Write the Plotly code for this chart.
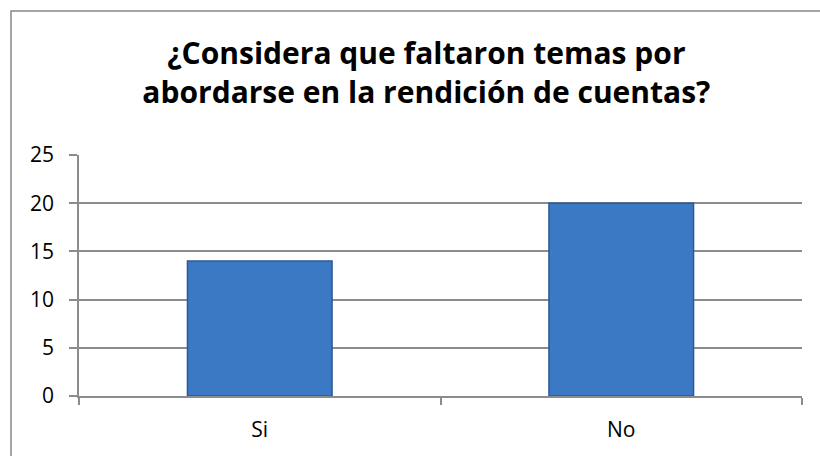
import plotly.graph_objects as go

categories = ["Si", "No"]
values = [14, 20]
y_ticks = [0, 5, 10, 15, 20, 25]

W, H = 820, 456
L, R, T, B = 79, 18, 155, 60
pw, ph = W - L - R, H - T - B

fig = go.Figure(go.Bar(
    x=categories, y=values,
    marker=dict(color="#3b79c5", line=dict(color="#2a5a94", width=1.5)),
    width=0.4,
))

# chart frame (cut off at right and bottom as in the reference)
fig.add_shape(type="rect", xref="paper", yref="paper",
              x0=(11 - L) / pw, x1=(W + 20 - L) / pw,
              y0=-(H + 20 - (H - B)) / ph, y1=(H - B - 11) / ph,
              line=dict(color="#888888", width=1.5), layer="below")

fig.update_layout(
    width=W, height=H,
    margin=dict(l=L, r=R, t=T, b=B),
    paper_bgcolor="white", plot_bgcolor="white",
    font=dict(family="Open Sans, sans-serif", color="black", size=21),
    title=dict(text="<b>¿Considera que faltaron temas por<br>abordarse en la rendición de cuentas?</b>",
               x=0.52, xanchor="center", y=1 - 64 / H, yanchor="top",
               font=dict(size=30, color="black")),
    showlegend=False,
    bargap=0.6,
)
fig.update_xaxes(showline=True, linecolor="#8c8c8c", linewidth=1.5,
                 ticks="outside", tickson="boundaries", ticklen=7,
                 tickcolor="#8c8c8c", tickwidth=1.5, showgrid=False,
                 ticklabelstandoff=14)
fig.update_yaxes(range=[0, 25], tickvals=y_ticks, showline=True,
                 linecolor="#8c8c8c", linewidth=1.5, ticks="outside", ticklen=8,
                 tickcolor="#8c8c8c", tickwidth=1.5, gridcolor="#8c8c8c",
                 gridwidth=1.5, zeroline=False, ticklabelstandoff=11)

fig.write_html("out.html", config={"displayModeBar": False},
               post_script="document.body.style.margin='0';")
